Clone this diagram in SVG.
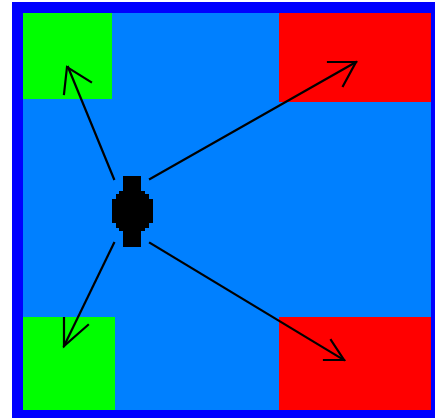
<svg xmlns="http://www.w3.org/2000/svg" width="435" height="418" viewBox="0 0 435 418">
<style>
.ln{fill:none;stroke:#000;stroke-width:2.2;stroke-linecap:square;stroke-linejoin:miter}
</style>
<rect width="435" height="418" fill="#fff"/>
<g id="frame">
<rect x="12" y="2" width="430" height="420" fill="#0000ff"/>
<rect x="23" y="13" width="408" height="397" fill="#0080ff"/>
</g>
<g id="zone-tl"><rect x="23" y="13" width="89" height="86" fill="#00ff00"/></g>
<g id="zone-tr"><rect x="279" y="13" width="152" height="89" fill="#ff0000"/></g>
<g id="zone-bl"><rect x="23" y="317" width="92" height="93" fill="#00ff00"/></g>
<g id="zone-br"><rect x="279" y="317" width="152" height="93" fill="#ff0000"/></g>
<g id="center">
<polygon fill="#000" points="123,176 141,176 141,191 145,191 145,194 149,194 149,199 153,199 153,223 149,223 149,228 145,228 145,231 141,231 141,247 123,247 123,231 119,231 119,228 116,228 116,223 112,223 112,199 116,199 116,194 119,194 119,191 123,191"/>
</g>
<g id="connectors">
<line class="ln" x1="114" y1="179" x2="68" y2="67"/>
<polyline class="ln" points="64,94 67,67 91,82"/>
<line class="ln" x1="150" y1="179" x2="356" y2="62"/>
<polyline class="ln" points="328,62 356,62 343,86"/>
<line class="ln" x1="114" y1="243" x2="64" y2="346"/>
<polyline class="ln" points="64,318 64,346 88,325"/>
<line class="ln" x1="150" y1="243" x2="344" y2="360"/>
<polyline class="ln" points="331,340 344,360 324,360"/>
</g>
</svg>
